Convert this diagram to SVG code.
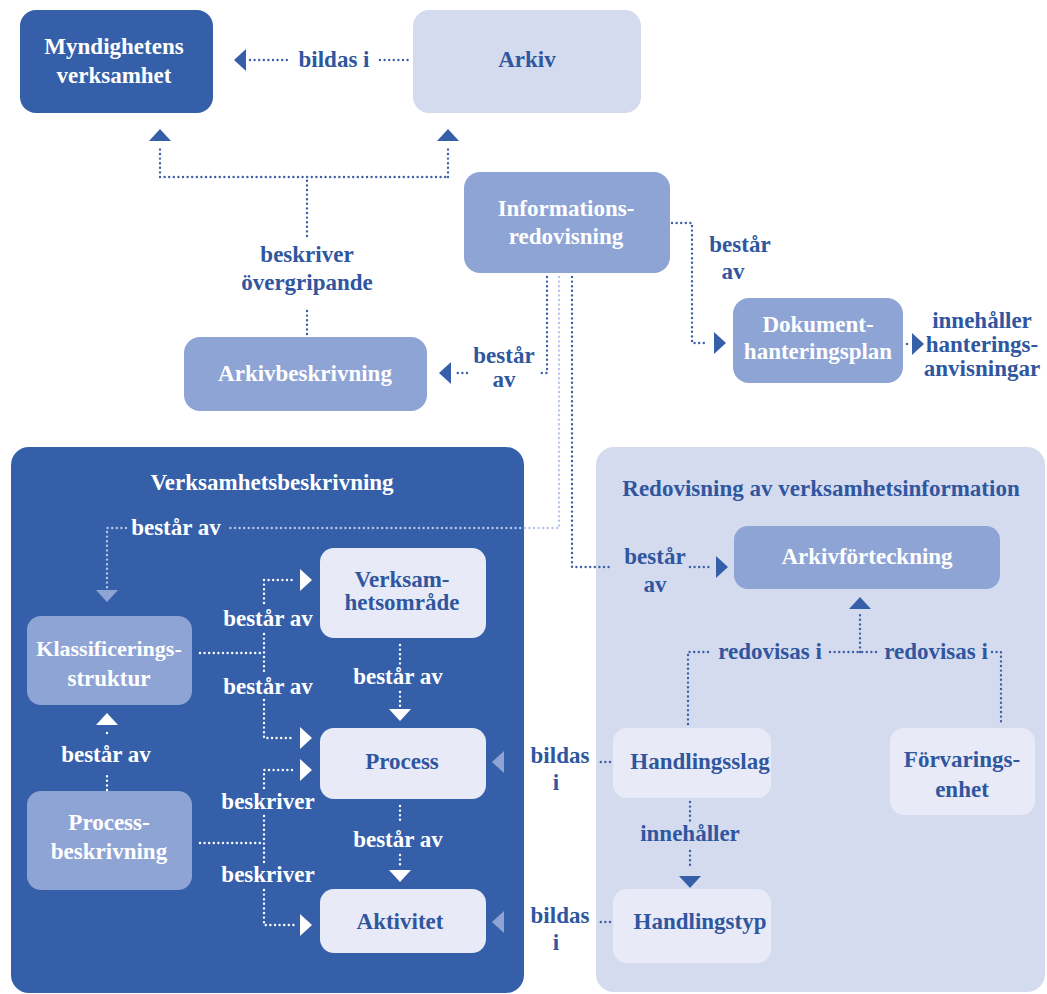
<svg xmlns="http://www.w3.org/2000/svg" xmlns:xlink="http://www.w3.org/1999/xlink" width="1047" height="994" viewBox="0 0 1047 994">
  <style>
    text { font-family: "Liberation Serif", "Times New Roman", serif; font-weight: bold; font-size: 23px; text-anchor: middle; }
    .sm { font-size: 22px; }
    .tw { fill: #ffffff; }
    .td { fill: #2f569e; }
    .dark { fill: #3560a9; }
    .mid { fill: #8ea4d5; }
    .light { fill: #d5dbef; }
    .pale { fill: #e8ebf7; }
    .dots { fill: none; stroke-width: 2.4; stroke-linecap: round; stroke-dasharray: 0 4.6; }
    .dd { stroke: #3b5ea6; }
    .dw { stroke: #ffffff; }
    .dl { stroke: #b9c5e6; }
    .ahd { fill: #3560a9; }
    .ahw { fill: #ffffff; }
    .ahm { fill: #8ea4d5; }
  </style>
  <defs>
    <!-- arrowhead with its tip at the origin, pointing right -->
    <path id="ah" d="M0,0 L-12,-11 L-12,11 Z"/>
  </defs>

  <rect width="1047" height="994" fill="#ffffff"/>

  <!-- panels -->
  <g id="verksamhetsbeskrivning">
    <rect class="dark" x="11" y="447" width="513" height="546" rx="18"/>
    <text class="tw" x="272" y="490">Verksamhetsbeskrivning</text>
  </g>
  <g id="redovisning">
    <rect class="light" x="596" y="447" width="449" height="545" rx="18"/>
    <text class="td" x="821" y="496">Redovisning av verksamhetsinformation</text>
  </g>

  <!-- nodes -->
  <g id="myndighetens-verksamhet">
    <rect class="dark" x="20" y="10" width="193" height="103" rx="16"/>
    <text class="tw" x="114" y="54">Myndighetens</text>
    <text class="tw" x="114" y="83">verksamhet</text>
  </g>
  <g id="arkiv">
    <rect class="light" x="413" y="10" width="228" height="103" rx="16"/>
    <text class="td" x="527" y="67">Arkiv</text>
  </g>
  <g id="informationsredovisning">
    <rect class="mid" x="464" y="172" width="206" height="101" rx="16"/>
    <text class="tw" x="566" y="216">Informations-</text>
    <text class="tw" x="566" y="244">redovisning</text>
  </g>
  <g id="arkivbeskrivning">
    <rect class="mid" x="184" y="337" width="243" height="74" rx="16"/>
    <text class="tw" x="305" y="381">Arkivbeskrivning</text>
  </g>
  <g id="dokumenthanteringsplan">
    <rect class="mid" x="733" y="298" width="170" height="85" rx="16"/>
    <text class="tw" x="818" y="332">Dokument-</text>
    <text class="tw" x="818" y="359">hanteringsplan</text>
  </g>
  <g id="klassificeringsstruktur">
    <rect class="mid" x="27" y="616" width="165" height="89" rx="14"/>
    <text class="tw sm" x="109" y="656">Klassificerings-</text>
    <text class="tw" x="109" y="686">struktur</text>
  </g>
  <g id="processbeskrivning">
    <rect class="mid" x="27" y="791" width="165" height="99" rx="14"/>
    <text class="tw" x="109" y="830">Process-</text>
    <text class="tw" x="109" y="859">beskrivning</text>
  </g>
  <g id="verksamhetsomrade">
    <rect class="pale" x="320" y="548" width="166" height="90" rx="14"/>
    <text class="td" x="402" y="587">Verksam-</text>
    <text class="td" x="402" y="610">hetsområde</text>
  </g>
  <g id="process">
    <rect class="pale" x="320" y="728" width="166" height="71" rx="14"/>
    <text class="td" x="402" y="769">Process</text>
  </g>
  <g id="aktivitet">
    <rect class="pale" x="320" y="889" width="166" height="64" rx="14"/>
    <text class="td" x="400" y="929">Aktivitet</text>
  </g>
  <g id="arkivforteckning">
    <rect class="mid" x="734" y="526" width="266" height="63" rx="14"/>
    <text class="tw" x="867" y="564">Arkivförteckning</text>
  </g>
  <g id="handlingsslag">
    <rect class="pale" x="613" y="728" width="158" height="70" rx="14"/>
    <text class="td" x="700" y="769">Handlingsslag</text>
  </g>
  <g id="handlingstyp">
    <rect class="pale" x="613" y="889" width="158" height="74" rx="14"/>
    <text class="td" x="700" y="929">Handlingstyp</text>
  </g>
  <g id="forvaringsenhet">
    <rect class="pale" x="890" y="728" width="145" height="87" rx="14"/>
    <text class="td" x="962" y="767">Förvarings-</text>
    <text class="td" x="962" y="797">enhet</text>
  </g>

  <!-- connectors -->
  <g id="connectors">
    <!-- Arkiv bildas i Myndighetens verksamhet -->
    <path class="dots dd" d="M250,60 H288 M380,60 H410"/>
    <use xlink:href="#ah" class="ahd" transform="translate(234,60) rotate(180)"/>
    <text class="td" x="334" y="67">bildas i</text>

    <!-- Arkivbeskrivning beskriver övergripande -->
    <path class="dots dd" d="M307,334 V308 M307,236 V177 M160,177 H448 M160,177 V146 M448,177 V146"/>
    <use xlink:href="#ah" class="ahd" transform="translate(160,129) rotate(-90)"/>
    <use xlink:href="#ah" class="ahd" transform="translate(448,129) rotate(-90)"/>
    <text class="td" x="307" y="262">beskriver</text>
    <text class="td" x="307" y="290">övergripande</text>

    <!-- Informationsredovisning består av Arkivbeskrivning -->
    <path class="dots dd" d="M547,277 V373 H538 M467,373 H455"/>
    <use xlink:href="#ah" class="ahd" transform="translate(439,373) rotate(180)"/>
    <text class="td" x="504" y="363">består</text>
    <text class="td" x="504" y="387">av</text>

    <!-- Informationsredovisning består av Dokumenthanteringsplan -->
    <path class="dots dd" d="M672,223 H692 V343 H708"/>
    <use xlink:href="#ah" class="ahd" transform="translate(726,343)"/>
    <text class="td" x="740" y="252">består</text>
    <text class="td" x="733" y="279">av</text>

    <!-- Dokumenthanteringsplan innehåller hanteringsanvisningar -->
    <path class="dots dd" d="M907,344 H908"/>
    <use xlink:href="#ah" class="ahd" transform="translate(924,344)"/>
    <text class="td" x="982" y="328">innehåller</text>
    <text class="td" x="982" y="352">hanterings-</text>
    <text class="td" x="982" y="376">anvisningar</text>

    <!-- Informationsredovisning består av Verksamhetsbeskrivning -->
    <path class="dots dl" d="M559,277 V528 H226 M126,528 H107 V588"/>
    <use xlink:href="#ah" class="ahm" transform="translate(107,602) rotate(90)"/>
    <text class="tw" x="176" y="535">består av</text>

    <!-- Informationsredovisning består av Arkivförteckning -->
    <path class="dots dd" d="M572,277 V567 H612 M690,567 H710"/>
    <use xlink:href="#ah" class="ahd" transform="translate(728,567)"/>
    <text class="td" x="655" y="564">består</text>
    <text class="td" x="655" y="592">av</text>

    <!-- Klassificeringsstruktur består av -->
    <path class="dots dw" d="M200,653 H264 M264,603 V580 H294 M264,634 V672 M264,700 V738 H294"/>
    <use xlink:href="#ah" class="ahw" transform="translate(312,580)"/>
    <use xlink:href="#ah" class="ahw" transform="translate(312,738)"/>
    <text class="tw" x="268" y="626">består av</text>
    <text class="tw" x="268" y="694">består av</text>

    <!-- Processbeskrivning beskriver -->
    <path class="dots dw" d="M200,843 H264 M264,788 V770 H294 M264,816 V862 M264,890 V925 H294"/>
    <use xlink:href="#ah" class="ahw" transform="translate(312,770)"/>
    <use xlink:href="#ah" class="ahw" transform="translate(312,925)"/>
    <text class="tw" x="268" y="809">beskriver</text>
    <text class="tw" x="268" y="882">beskriver</text>

    <!-- Processbeskrivning består av Klassificeringsstruktur -->
    <path class="dots dw" d="M107,790 V772 M107,733 V734"/>
    <use xlink:href="#ah" class="ahw" transform="translate(107,713) rotate(-90)"/>
    <text class="tw" x="106" y="762">består av</text>

    <!-- Verksamhetsområde består av Process -->
    <path class="dots dw" d="M400,645 V664 M400,692 V706"/>
    <use xlink:href="#ah" class="ahw" transform="translate(400,721) rotate(90)"/>
    <text class="tw" x="398" y="684">består av</text>

    <!-- Process består av Aktivitet -->
    <path class="dots dw" d="M400,806 V824 M400,855 V868"/>
    <use xlink:href="#ah" class="ahw" transform="translate(400,882) rotate(90)"/>
    <text class="tw" x="398" y="847">består av</text>

    <!-- Handlingsslag / Förvaringsenhet redovisas i Arkivförteckning -->
    <path class="dots dd" d="M688,724 V652 H712 M830,652 H878 M860,652 V614 M992,652 H1001 V724"/>
    <use xlink:href="#ah" class="ahd" transform="translate(860,597) rotate(-90)"/>
    <text class="td" x="770" y="659">redovisas i</text>
    <text class="td" x="936" y="659">redovisas i</text>

    <!-- Handlingsslag innehåller Handlingstyp -->
    <path class="dots dd" d="M690,802 V822 M690,851 V868"/>
    <use xlink:href="#ah" class="ahd" transform="translate(690,888) rotate(90)"/>
    <text class="td" x="690" y="841">innehåller</text>

    <!-- Handlingsslag bildas i Process -->
    <path class="dots dd" d="M610,762 H600 M518,762 H508"/>
    <use xlink:href="#ah" class="ahm" transform="translate(492,762) rotate(180)"/>
    <text class="td" x="560" y="763">bildas</text>
    <text class="td" x="556" y="790">i</text>

    <!-- Handlingstyp bildas i Aktivitet -->
    <path class="dots dd" d="M610,922 H600 M518,922 H508"/>
    <use xlink:href="#ah" class="ahm" transform="translate(492,922) rotate(180)"/>
    <text class="td" x="560" y="923">bildas</text>
    <text class="td" x="556" y="950">i</text>
  </g>
</svg>
